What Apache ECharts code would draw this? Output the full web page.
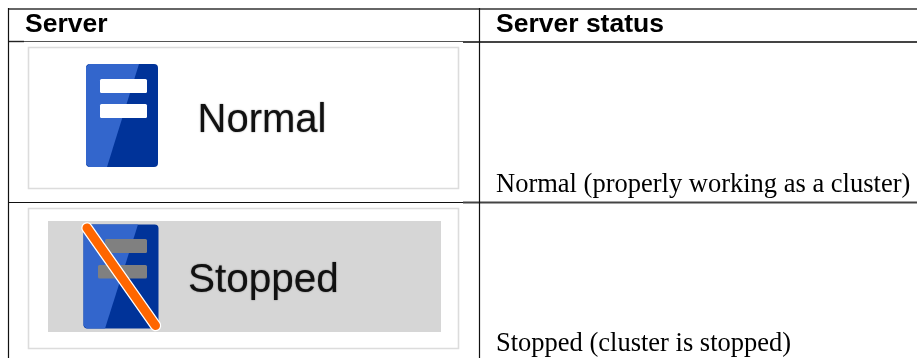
<!DOCTYPE html>
<html><head><meta charset="utf-8">
<style>html,body{margin:0;padding:0;background:#fff}#c{width:917px;height:358px}</style>
<script src="https://cdn.jsdelivr.net/npm/echarts@6/dist/echarts.min.js"></script>
</head><body><div id="c"></div>
<script>
const headers = ['Server', 'Server status'];
const imageLabels = ['Normal', 'Stopped'];
const statuses = ['Normal (properly working as a cluster)', 'Stopped (cluster is stopped)'];

const SANS = '"Liberation Sans", Arial, sans-serif';
const SERIF = '"Liberation Serif", "Times New Roman", serif';
const LIGHT = '#3366cc', DARK = '#003399';

function hline(x1, x2, y, w, c) {
  return {type:'line', shape:{x1, y1:y, x2, y2:y}, style:{stroke:c, lineWidth:w}};
}
function vline(x, y1, y2, w) {
  return {type:'line', shape:{x1:x, y1, x2:x, y2}, style:{stroke:'#111', lineWidth:w}};
}
// y is the text baseline; ECharts anchors with the top of the line box
function text(x, y, t, size, family, weight, soft) {
  const asc = family === SANS ? 0.905 : 0.891;
  const s = {text:t, fontSize:size, fontFamily:family, fontWeight:weight||'normal',
    fill:'#000', align:'left', verticalAlign:'top',
    lineHeight:Math.round(size*asc)+Math.round(size*0.212)};
  if (soft) { s.textShadowColor = 'rgba(0,0,0,0.55)'; s.textShadowBlur = 1.5; s.fill = '#111'; }
  return {type:'text', x, y: y - Math.round(size*asc) + Math.round(size*0.05), style:s};
}
function box(x, y, w, h) {
  return {type:'rect', shape:{x, y, width:w, height:h},
    style:{fill:'#fff', stroke:'#dcdcdc', lineWidth:1.6}};
}
function icon(x, y, w, h, slantTop, slantBot, bars, barFill) {
  const els = [
    {type:'rect', shape:{x, y, width:w, height:h, r:4}, style:{fill:DARK}},
    {type:'polygon', shape:{points:[[x+3,y],[slantTop,y],[slantBot,y+h],[x+3,y+h],[x,y+h-3],[x,y+3]]}, style:{fill:LIGHT}}
  ];
  bars.forEach(b => els.push({type:'rect', shape:{x:b[0], y:b[1], width:b[2], height:b[3], r:1.5}, style:{fill:barFill}}));
  return els;
}

const elements = [
  hline(8, 917, 9, 1.6, '#333'),
  hline(8, 24, 41.5, 1.4, '#222'),
  hline(24, 463, 41.5, 1, '#555'),
  hline(463, 917, 42, 1.8, '#444'),
  hline(8, 463, 202.5, 1.1, '#111'),
  hline(463, 917, 202.5, 1.8, '#444'),
  vline(8.5, 8, 358, 1.2),
  vline(479.5, 8, 358, 1.2),

  text(25, 33, headers[0], 26.5, SANS, 'bold'),
  text(496, 33, headers[1], 26.5, SANS, 'bold'),
  text(496, 193, statuses[0], 26.5, SERIF),
  text(496, 352, statuses[1], 26.5, SERIF),

  box(28.5, 47.5, 430, 141),
  ...icon(86, 64, 72, 103, 139, 107, [[100,79,47,14],[100,104,47,14]], '#ffffff'),
  text(197.5, 133, imageLabels[0], 40, SANS, 'normal', true),

  box(28.5, 208.5, 430, 140),
  {type:'rect', shape:{x:48, y:221, width:393, height:111}, style:{fill:'#d6d6d6'}},
  ...icon(83.5, 224.5, 75, 104, 138, 105, [[105,239,42,14],[98,265,49,13.5]], '#808080'),
  {type:'line', shape:{x1:87, y1:228, x2:155.5, y2:325.5}, style:{stroke:'#ffffff', lineWidth:11.5, lineCap:'round'}},
  {type:'line', shape:{x1:87, y1:228, x2:155.5, y2:325.5}, style:{stroke:'#ff6600', lineWidth:9, lineCap:'round'}},
  text(188, 293, imageLabels[1], 40.5, SANS, 'normal', true)
];

const chart = echarts.init(document.getElementById('c'), null, {renderer:'canvas'});
chart.setOption({animation:false, backgroundColor:'#fff', graphic:{elements}});
</script></body></html>
